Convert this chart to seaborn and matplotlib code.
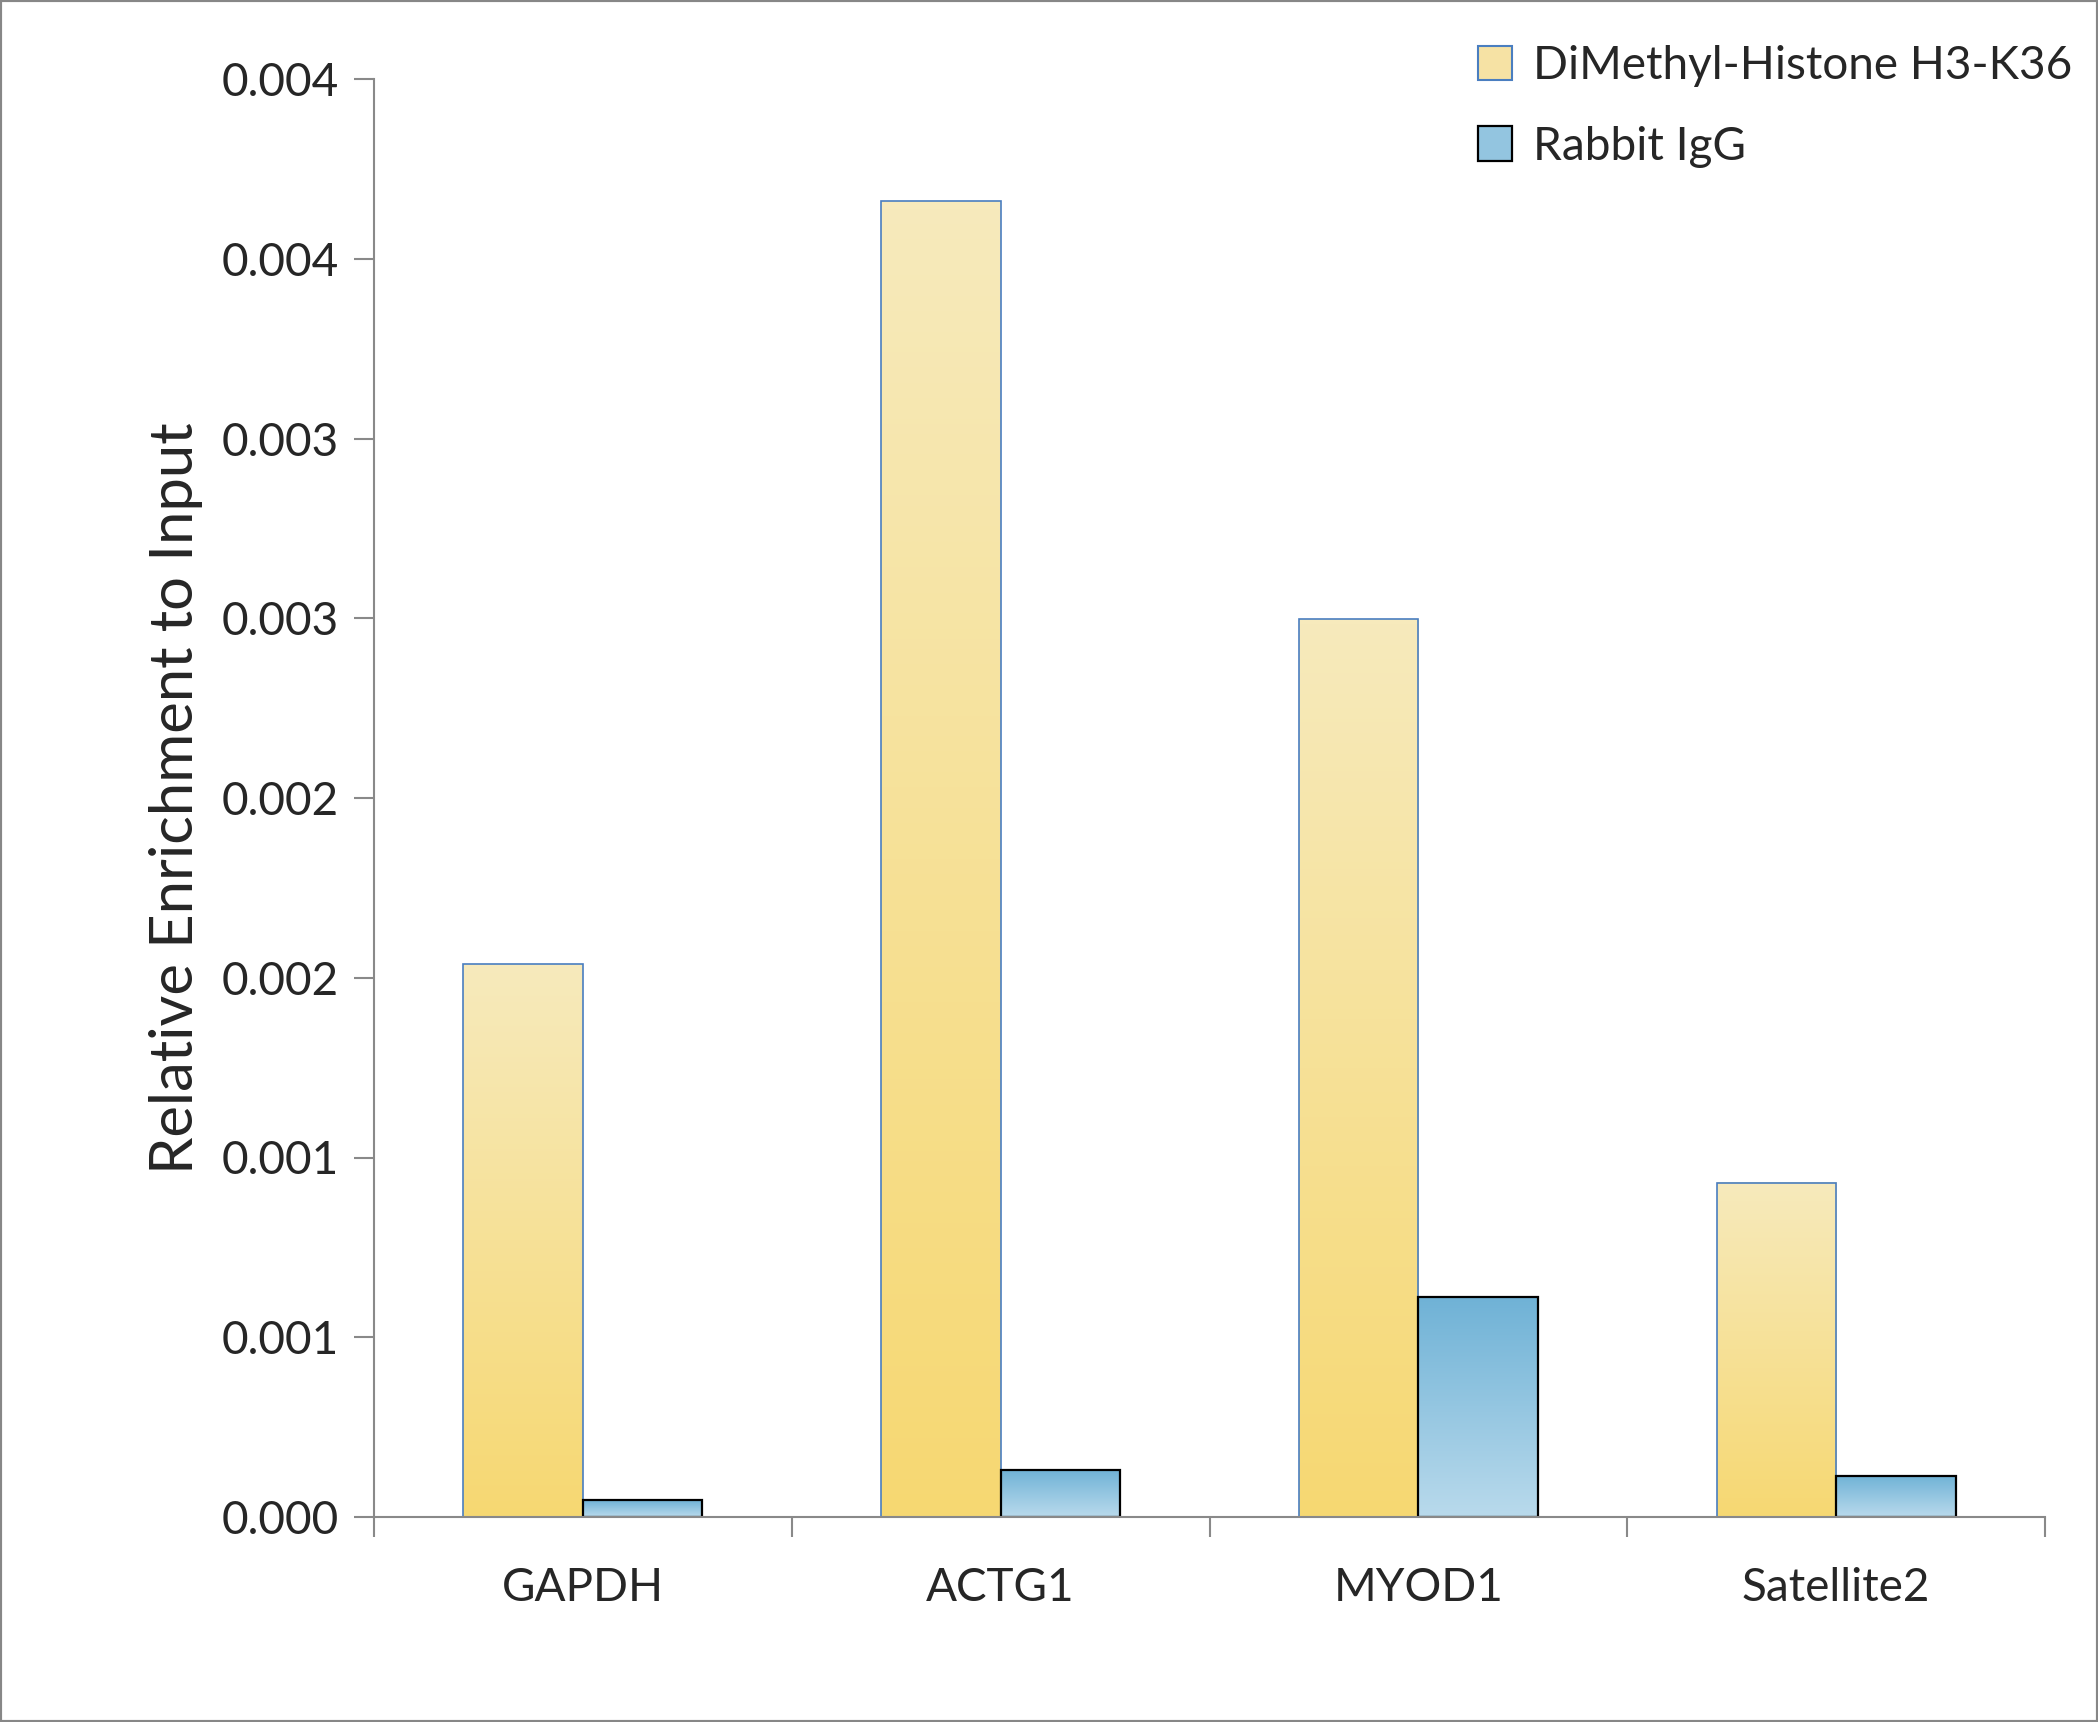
import numpy as np
import pandas as pd
import matplotlib
matplotlib.use("Agg")
import matplotlib.pyplot as plt
import seaborn as sns
from matplotlib.colors import LinearSegmentedColormap
from matplotlib.patches import Patch, Rectangle

# data
targets = ["GAPDH", "ACTG1", "MYOD1", "Satellite2"]
dimethyl_vals = [0.001537, 0.003660, 0.002497, 0.000930]
igg_vals = [0.000046, 0.000132, 0.000612, 0.000115]
antibodies = ["DiMethyl-Histone H3-K36", "Rabbit IgG"]
y_ticks = [0.0, 0.0005, 0.001, 0.0015, 0.002, 0.0025, 0.003, 0.0035, 0.004]
y_tick_labels = ["0.000", "0.001", "0.001", "0.002", "0.002", "0.003", "0.003", "0.004", "0.004"]

df = pd.DataFrame({
    "target": targets * 2,
    "value": dimethyl_vals + igg_vals,
    "antibody": [antibodies[0]] * 4 + [antibodies[1]] * 4,
})

sns.set_style("white")
plt.rcParams["font.family"] = ["Lato", "DejaVu Sans"]

# gradients (top colour -> bottom colour)
yellow_top, yellow_bot = "#F7EABC", "#F6D872"
blue_top, blue_bot = "#6FB2D6", "#B9DAEC"
grads = [LinearSegmentedColormap.from_list("y", [yellow_top, yellow_bot]),
         LinearSegmentedColormap.from_list("b", [blue_top, blue_bot])]
edges = ["#4A7EC0", "#000000"]
edge_w = [1.2, 1.6]

fig = plt.figure(figsize=(20.98, 17.22), dpi=100)
ax = fig.add_axes([374 / 2098, 1 - 1517 / 1722, (2045 - 374) / 2098, (1517 - 79) / 1722])

sns.barplot(data=df, x="target", y="value", hue="antibody", hue_order=antibodies,
            palette=["#F6E0A0", "#93C5E0"], width=0.572, gap=0, legend=False, ax=ax)

ramp = np.linspace(0, 1, 256).reshape(-1, 1)
for i, cont in enumerate(ax.containers):
    for bar in cont:
        x0, w, h = bar.get_x(), bar.get_width(), bar.get_height()
        ax.imshow(ramp, cmap=grads[i], extent=[x0, x0 + w, 0, h], aspect="auto",
                  origin="upper", zorder=1.5, interpolation="bilinear")
        bar.set_facecolor("none")
        bar.set_edgecolor(edges[i])
        bar.set_linewidth(edge_w[i])
        bar.set_zorder(2)

ax.set_xlim(-0.5, 3.5)
ax.set_ylim(0, 0.004)
ax.set_yticks(y_ticks)
ax.set_yticklabels(y_tick_labels)
ax.set_xticks(range(len(targets)))
ax.set_xticklabels(targets)
ax.set_xticks(np.arange(-0.5, 4, 1.0), minor=True)

spine_c = "#898989"
for s in ["top", "right"]:
    ax.spines[s].set_visible(False)
for s in ["left", "bottom"]:
    ax.spines[s].set_color(spine_c)
    ax.spines[s].set_linewidth(1.5)

ax.tick_params(axis="y", which="major", direction="out", length=14.5, width=1.5,
               color=spine_c, labelsize=33, pad=11, left=True)
ax.tick_params(axis="x", which="major", length=0, labelsize=33, pad=36)
ax.tick_params(axis="x", which="minor", direction="out", length=14.5, width=1.5,
               color=spine_c, bottom=True)

ax.set_xlabel("")
ax.set_ylabel("Relative Enrichment to Input", fontsize=43, labelpad=13)

handles = [Patch(facecolor="#F6E2A4", edgecolor=edges[0], linewidth=1.5),
           Patch(facecolor="#93C5E0", edgecolor=edges[1], linewidth=1.6)]
fig.legend(handles, antibodies, loc="upper left",
           bbox_to_anchor=(1478 / 2098, 1 - 45 / 1722), bbox_transform=fig.transFigure,
           frameon=False, fontsize=33, handlelength=0.75, handleheight=0.78,
           handletextpad=0.45, labelspacing=0.84, borderpad=0, borderaxespad=0)

fig.patches.append(Rectangle((0, 0), 1, 1, transform=fig.transFigure, fill=False,
                             edgecolor="#878787", linewidth=3))

fig.savefig("out.png", dpi=100)
